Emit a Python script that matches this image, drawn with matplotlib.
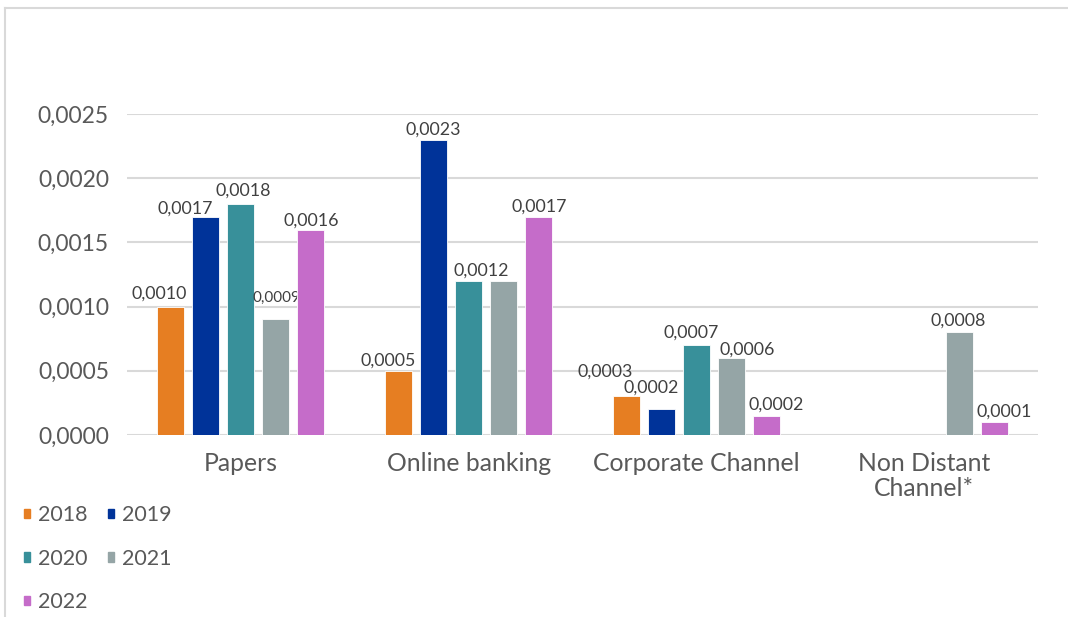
import matplotlib
matplotlib.use('Agg')
import matplotlib.pyplot as plt
from matplotlib.patches import Patch
from matplotlib.lines import Line2D
import numpy as np

categories = ['Papers', 'Online banking', 'Corporate Channel', 'Non Distant\nChannel*']
years = ['2018', '2019', '2020', '2021', '2022']
v2018 = [0.0010, 0.0005, 0.0003, 0.0]
v2019 = [0.0017, 0.0023, 0.0002, 0.0]
v2020 = [0.0018, 0.0012, 0.0007, 0.0]
v2021 = [0.0009, 0.0012, 0.0006, 0.0008]
v2022 = [0.0016, 0.0017, 0.00015, 0.0001]
values = [v2018, v2019, v2020, v2021, v2022]
# printed labels (None = no label shown)
labels = [
    ['0,0010', '0,0005', '0,0003', None],
    ['0,0017', '0,0023', '0,0002', None],
    ['0,0018', '0,0012', '0,0007', None],
    ['0,0009', None, '0,0006', '0,0008'],
    ['0,0016', '0,0017', '0,0002', '0,0001'],
]
colors = ['#E67E22', '#003399', '#38909A', '#95A5A6', '#C56CC9']
txt = '#595959'
grid = '#D9D9D9'

# label nudges in pixels (dx, dy) from the default spot above the bar
nudge = [
    [(-12, 3), (-11, 0), (-21, 15), None],
    [(-21, -2), (0, 0), (-10, 12), None],
    [(2, 3), (13, 0), (-5, 2), None],
    [(1, 13), None, (16, -2), (-1, 2)],
    [(0, -1), (1, 0), (10, 1), (10, 1)],
]

plt.rcParams['font.family'] = ['Lato', 'DejaVu Sans']

fig = plt.figure(figsize=(10.68, 6.17), dpi=100)
ax = fig.add_axes([127/1068, 1-435/617, 911/1068, 321/617])

x = np.arange(len(categories))
pitch = 35/228
width = 27/228
for i, yr in enumerate(years):
    pos = x + (i - 2) * pitch
    ax.bar(pos, values[i], width, color=colors[i], edgecolor='white',
           linewidth=0.6, label=yr, zorder=3)
    for j, lab in enumerate(labels[i]):
        if lab is None:
            continue
        dx, dy = nudge[i][j]
        fs = 11 if (i == 3 and j == 0) else 12.8
        ax.annotate(lab, (pos[j], values[i][j]), xytext=(dx*0.72, (dy+2)*0.72),
                    textcoords='offset points', ha='center', va='bottom',
                    fontsize=fs, color='#404040')

ax.set_xlim(-0.5, 3.5)
ax.set_ylim(0, 0.0025)
ax.set_yticks(np.arange(0, 0.00251, 0.0005))
ax.set_yticklabels([('%.4f' % t).replace('.', ',') for t in np.arange(0, 0.00251, 0.0005)])
ax.set_xticks(x)
ax.set_xticklabels(categories, linespacing=1.1)
ax.tick_params(axis='y', length=0, pad=13, labelsize=16.5, labelcolor=txt)
ax.tick_params(axis='x', length=0, pad=12.5, labelsize=17.8, labelcolor=txt)
ax.grid(axis='y', color=grid, linewidth=1.5, zorder=0)
for s in ax.spines.values():
    s.set_visible(False)

handles = [Patch(color=c) for c in colors]
order = [0, 2, 4, 1, 3]
fig.legend([handles[k] for k in order], [years[k] for k in order], ncol=2,
           loc='upper left', bbox_to_anchor=(24/1068, 1-505/617), frameon=False,
           fontsize=15.5, labelcolor=txt, handlelength=0.3, handleheight=0.3,
           handletextpad=0.35, columnspacing=0.95, labelspacing=1.1, borderpad=0,
           borderaxespad=0)

# outer chart frame (top and left edges)
fig.add_artist(Line2D([5/1068, 1], [1-7.5/617, 1-7.5/617], color=grid, linewidth=1.5))
fig.add_artist(Line2D([5/1068, 5/1068], [0, 1-7.5/617], color=grid, linewidth=1.5))

fig.savefig('out.png', dpi=100)
